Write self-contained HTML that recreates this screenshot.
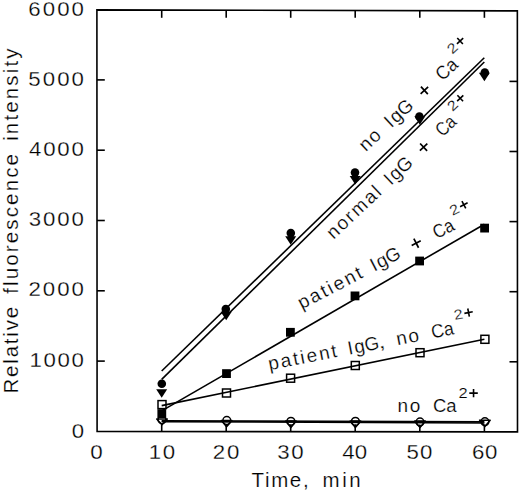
<!DOCTYPE html>
<html><head><meta charset="utf-8"><style>
html,body{margin:0;padding:0;background:#fff;}
svg{display:block;}
text{font-family:"Liberation Sans",sans-serif;fill:#000;stroke:#fff;stroke-width:0.2px;}
.lb{font-size:21px;letter-spacing:0px;}
</style></head><body>
<svg width="520" height="491" viewBox="0 0 520 491">
<rect width="520" height="491" fill="#fff"/>
<path d="M96.9 9.85L517.35 10.9L517.5 431.9L97.1 431.5Z" fill="none" stroke="#000" stroke-width="1.6" stroke-linejoin="miter"/>
<line x1="161.7" y1="10" x2="161.7" y2="17.8" stroke="#000" stroke-width="1.6"/>
<line x1="161.7" y1="431.8" x2="161.7" y2="424.5" stroke="#000" stroke-width="1.6"/>
<line x1="226.2" y1="10" x2="226.2" y2="17.8" stroke="#000" stroke-width="1.6"/>
<line x1="226.2" y1="431.8" x2="226.2" y2="424.5" stroke="#000" stroke-width="1.6"/>
<line x1="290.7" y1="10" x2="290.7" y2="17.8" stroke="#000" stroke-width="1.6"/>
<line x1="290.7" y1="431.8" x2="290.7" y2="424.5" stroke="#000" stroke-width="1.6"/>
<line x1="355.2" y1="10" x2="355.2" y2="17.8" stroke="#000" stroke-width="1.6"/>
<line x1="355.2" y1="431.8" x2="355.2" y2="424.5" stroke="#000" stroke-width="1.6"/>
<line x1="419.8" y1="10" x2="419.8" y2="17.8" stroke="#000" stroke-width="1.6"/>
<line x1="419.8" y1="431.8" x2="419.8" y2="424.5" stroke="#000" stroke-width="1.6"/>
<line x1="484.4" y1="10" x2="484.4" y2="17.8" stroke="#000" stroke-width="1.6"/>
<line x1="484.4" y1="431.8" x2="484.4" y2="424.5" stroke="#000" stroke-width="1.6"/>
<line x1="97" y1="361.10" x2="104.8" y2="361.10" stroke="#000" stroke-width="1.6"/>
<line x1="517.4" y1="361.80" x2="509.5" y2="361.80" stroke="#000" stroke-width="1.6"/>
<line x1="97" y1="290.80" x2="104.8" y2="290.80" stroke="#000" stroke-width="1.6"/>
<line x1="517.4" y1="291.70" x2="509.5" y2="291.70" stroke="#000" stroke-width="1.6"/>
<line x1="97" y1="220.50" x2="104.8" y2="220.50" stroke="#000" stroke-width="1.6"/>
<line x1="517.4" y1="221.60" x2="509.5" y2="221.60" stroke="#000" stroke-width="1.6"/>
<line x1="97" y1="150.20" x2="104.8" y2="150.20" stroke="#000" stroke-width="1.6"/>
<line x1="517.4" y1="151.50" x2="509.5" y2="151.50" stroke="#000" stroke-width="1.6"/>
<line x1="97" y1="79.90" x2="104.8" y2="79.90" stroke="#000" stroke-width="1.6"/>
<line x1="517.4" y1="81.40" x2="509.5" y2="81.40" stroke="#000" stroke-width="1.6"/>
<line x1="161.7" y1="371.0" x2="484.3" y2="57.8" stroke="#000" stroke-width="1.6"/>
<line x1="161.7" y1="379.4" x2="484.3" y2="62.0" stroke="#000" stroke-width="1.6"/>
<line x1="161.7" y1="410.9" x2="484.4" y2="224.2" stroke="#000" stroke-width="1.6"/>
<line x1="161.7" y1="405.6" x2="484.4" y2="339.3" stroke="#000" stroke-width="1.6"/>
<line x1="161.7" y1="420.8" x2="484.4" y2="421.9" stroke="#000" stroke-width="1.7"/>
<line x1="161.7" y1="421.6" x2="484.4" y2="423.0" stroke="#000" stroke-width="1.7"/>
<circle cx="161.8" cy="383.7" r="4.3" fill="#000"/>
<circle cx="225.8" cy="309.1" r="4.3" fill="#000"/>
<circle cx="290.8" cy="233.1" r="4.3" fill="#000"/>
<circle cx="355" cy="172.6" r="4.3" fill="#000"/>
<circle cx="419.4" cy="116.5" r="4.3" fill="#000"/>
<circle cx="484.8" cy="72.5" r="4.3" fill="#000"/>
<polygon points="156.20,389.18 167.20,389.18 161.70,397.68" fill="#000"/>
<polygon points="220.70,311.68 231.70,311.68 226.20,320.18" fill="#000"/>
<polygon points="285.20,236.18 296.20,236.18 290.70,244.68" fill="#000"/>
<polygon points="349.70,176.08 360.70,176.08 355.20,184.58" fill="#000"/>
<polygon points="414.30,116.27 425.30,116.27 419.80,124.77" fill="#000"/>
<polygon points="478.90,72.77 489.90,72.77 484.40,81.27" fill="#000"/>
<rect x="157.40" y="409.20" width="8.8" height="8.8" fill="#000"/>
<rect x="222.10" y="369.20" width="8.8" height="8.8" fill="#000"/>
<rect x="286.00" y="327.90" width="8.8" height="8.8" fill="#000"/>
<rect x="350.60" y="291.50" width="8.8" height="8.8" fill="#000"/>
<rect x="415.20" y="256.60" width="8.8" height="8.8" fill="#000"/>
<rect x="480.20" y="223.70" width="8.8" height="8.8" fill="#000"/>
<rect x="158.00" y="400.60" width="8.0" height="8.0" fill="none" stroke="#000" stroke-width="1.5"/>
<rect x="222.50" y="389.00" width="8.0" height="8.0" fill="none" stroke="#000" stroke-width="1.5"/>
<rect x="286.60" y="374.20" width="8.0" height="8.0" fill="none" stroke="#000" stroke-width="1.5"/>
<rect x="351.30" y="361.50" width="8.0" height="8.0" fill="none" stroke="#000" stroke-width="1.5"/>
<rect x="416.00" y="348.70" width="8.0" height="8.0" fill="none" stroke="#000" stroke-width="1.5"/>
<rect x="480.90" y="335.30" width="8.0" height="8.0" fill="none" stroke="#000" stroke-width="1.5"/>
<circle cx="162.0" cy="419.8" r="3.9" fill="none" stroke="#000" stroke-width="1.5"/>
<circle cx="226.8" cy="420.5" r="3.9" fill="none" stroke="#000" stroke-width="1.5"/>
<circle cx="290.9" cy="421.3" r="3.9" fill="none" stroke="#000" stroke-width="1.5"/>
<circle cx="355.4" cy="421.4" r="3.9" fill="none" stroke="#000" stroke-width="1.5"/>
<circle cx="420.0" cy="422.0" r="3.9" fill="none" stroke="#000" stroke-width="1.5"/>
<circle cx="484.9" cy="421.7" r="3.9" fill="none" stroke="#000" stroke-width="1.5"/>
<polygon points="156.70,419.00 167.30,419.00 162.00,424.80" fill="none" stroke="#000" stroke-width="1.5" stroke-linejoin="round"/>
<polygon points="221.30,420.50 231.90,420.50 226.60,426.80" fill="none" stroke="#000" stroke-width="1.5" stroke-linejoin="round"/>
<polygon points="285.60,421.00 296.20,421.00 290.90,427.40" fill="none" stroke="#000" stroke-width="1.5" stroke-linejoin="round"/>
<polygon points="350.10,421.00 360.70,421.00 355.40,427.40" fill="none" stroke="#000" stroke-width="1.5" stroke-linejoin="round"/>
<polygon points="414.70,421.00 425.30,421.00 420.00,427.40" fill="none" stroke="#000" stroke-width="1.5" stroke-linejoin="round"/>
<polygon points="479.60,420.20 490.20,420.20 484.90,426.60" fill="none" stroke="#000" stroke-width="1.5" stroke-linejoin="round"/>
<text transform="translate(28.37,15.6) scale(1.080,1)" style="font-size:20.6px;letter-spacing:1.88px;stroke-width:0.26px">6000</text>
<text transform="translate(28.31,86.3) scale(1.080,1)" style="font-size:20.6px;letter-spacing:1.90px;stroke-width:0.26px">5000</text>
<text transform="translate(28.99,156.3) scale(1.080,1)" style="font-size:20.6px;letter-spacing:1.69px;stroke-width:0.26px">4000</text>
<text transform="translate(28.65,226.3) scale(1.080,1)" style="font-size:20.6px;letter-spacing:1.80px;stroke-width:0.26px">3000</text>
<text transform="translate(28.38,296.4) scale(1.080,1)" style="font-size:20.6px;letter-spacing:1.88px;stroke-width:0.26px">2000</text>
<text transform="translate(29.41,367.1) scale(1.080,1)" style="font-size:20.6px;letter-spacing:1.57px;stroke-width:0.26px">1000</text>
<text transform="translate(71.63,437.5) scale(1.076,1)" style="font-size:20.6px;letter-spacing:0.00px;stroke-width:0.26px">0</text>
<text transform="translate(90.33,459.4) scale(1.087,1)" style="font-size:20.6px;letter-spacing:0.00px;stroke-width:0.26px">0</text>
<text transform="translate(148.71,459.4) scale(1.080,1)" style="font-size:20.6px;letter-spacing:1.50px;stroke-width:0.26px">10</text>
<text transform="translate(212.68,459.4) scale(1.080,1)" style="font-size:20.6px;letter-spacing:1.80px;stroke-width:0.26px">20</text>
<text transform="translate(277.25,459.4) scale(1.080,1)" style="font-size:20.6px;letter-spacing:1.45px;stroke-width:0.26px">30</text>
<text transform="translate(342.19,459.4) scale(1.080,1)" style="font-size:20.6px;letter-spacing:0.12px;stroke-width:0.26px">40</text>
<text transform="translate(406.41,459.4) scale(1.080,1)" style="font-size:20.6px;letter-spacing:1.12px;stroke-width:0.26px">50</text>
<text transform="translate(471.97,459.4) scale(1.080,1)" style="font-size:20.6px;letter-spacing:0.60px;stroke-width:0.26px">60</text>
<text transform="translate(251.54,487.0) scale(1.000,1)" style="font-size:20.5px;letter-spacing:1.64px">Time,</text>
<text transform="translate(322.44,487.0) scale(1.000,1)" style="font-size:20.5px;letter-spacing:2.63px">min</text>
<g transform="translate(17.5,0) rotate(-90)">
<text transform="translate(-393.48,0) scale(1.000,1)" style="font-size:20.5px;letter-spacing:1.79px">Relative</text>
<text transform="translate(-293.79,0) scale(1.000,1)" style="font-size:20.5px;letter-spacing:2.14px">fluorescence</text>
<text transform="translate(-140.87,0) scale(1.000,1)" style="font-size:20.5px;letter-spacing:2.15px">intensity</text>
</g>
<g transform="translate(393.2,126.8) rotate(-42.6)">
<text class="lb" x="-37.46" y="0" style="font-size:19px;letter-spacing:1.63px">no</text>
<text class="lb" x="-2.53" y="0" style="font-size:19px" textLength="5.06" lengthAdjust="spacingAndGlyphs">I</text>
<text class="lb" x="4.11" y="0" style="font-size:19px" textLength="24.99" lengthAdjust="spacingAndGlyphs">gG</text>
<path d="M42.50 -5.70H52.70M47.60 -10.80V-0.60" stroke="#000" stroke-width="1.7" fill="none"/>
<text class="lb" x="67.04" y="0" style="font-size:19px" textLength="22.46" lengthAdjust="spacingAndGlyphs">Ca</text>
<text class="lb" x="92.22" y="-13.2" style="font-size:14.0px" textLength="9.16" lengthAdjust="spacingAndGlyphs">2</text>
<path d="M103.05 -17.90H111.55M107.30 -22.05V-13.75" stroke="#000" stroke-width="1.6" fill="none"/>
</g>
<g transform="translate(392.8,184.2) rotate(-43.2)">
<text class="lb" x="-81.46" y="0" style="font-size:19px;letter-spacing:1.90px">normal</text>
<text class="lb" x="-2.53" y="0" style="font-size:19px" textLength="5.06" lengthAdjust="spacingAndGlyphs">I</text>
<text class="lb" x="4.11" y="0" style="font-size:19px" textLength="24.99" lengthAdjust="spacingAndGlyphs">gG</text>
<path d="M42.70 -5.90H52.90M47.80 -11.00V-0.80" stroke="#000" stroke-width="1.7" fill="none"/>
<text class="lb" x="68.19" y="0" style="font-size:19px" textLength="20.91" lengthAdjust="spacingAndGlyphs">Ca</text>
<text class="lb" x="92.92" y="-11.8" style="font-size:14.0px" textLength="9.16" lengthAdjust="spacingAndGlyphs">2</text>
<path d="M103.75 -16.50H112.25M108.00 -20.65V-12.35" stroke="#000" stroke-width="1.6" fill="none"/>
</g>
<g transform="translate(376.4,270.7) rotate(-27.5)">
<text class="lb" x="-84.12" y="0" style="font-size:19px;letter-spacing:2.17px">patient</text>
<text class="lb" x="-2.53" y="0" style="font-size:19px" textLength="5.06" lengthAdjust="spacingAndGlyphs">I</text>
<text class="lb" x="4.11" y="0" style="font-size:19px" textLength="24.99" lengthAdjust="spacingAndGlyphs">gG</text>
<path d="M42.90 -6.00H53.10M48.00 -11.10V-0.90" stroke="#000" stroke-width="1.7" fill="none"/>
<text class="lb" x="68.03" y="0" style="font-size:19px" textLength="21.47" lengthAdjust="spacingAndGlyphs">Ca</text>
<text class="lb" x="92.92" y="-13.4" style="font-size:14.0px" textLength="9.16" lengthAdjust="spacingAndGlyphs">2</text>
<path d="M103.75 -18.10H112.25M108.00 -22.25V-13.95" stroke="#000" stroke-width="1.6" fill="none"/>
</g>
<g transform="translate(351.45,354.2) rotate(-11.0)">
<text class="lb" x="-83.62" y="0" style="font-size:19px;letter-spacing:2.10px">patient</text>
<text class="lb" x="-2.53" y="0" style="font-size:19px" textLength="5.06" lengthAdjust="spacingAndGlyphs">I</text>
<text class="lb" x="4.11" y="0" style="font-size:19px" textLength="24.99" lengthAdjust="spacingAndGlyphs">gG</text>
<text class="lb" x="28.01" y="0" style="font-size:19px" textLength="7.08" lengthAdjust="spacingAndGlyphs">,</text>
<text class="lb" x="46.89" y="0" style="font-size:19px;letter-spacing:1.63px">no</text>
<text class="lb" x="82.56" y="0" style="font-size:19px" textLength="22.74" lengthAdjust="spacingAndGlyphs">Ca</text>
<text class="lb" x="107.82" y="-13.8" style="font-size:14.0px" textLength="9.16" lengthAdjust="spacingAndGlyphs">2</text>
<path d="M118.65 -18.50H127.15M122.90 -22.65V-14.35" stroke="#000" stroke-width="1.6" fill="none"/>
</g>
<g transform="translate(0,412) rotate(0)">
<text class="lb" x="397.44" y="0" style="font-size:19px;letter-spacing:1.63px">no</text>
<text class="lb" x="432.95" y="0" style="font-size:19px" textLength="23.65" lengthAdjust="spacingAndGlyphs">Ca</text>
<text class="lb" x="458.47" y="-14.2" style="font-size:14.0px" textLength="9.16" lengthAdjust="spacingAndGlyphs">2</text>
<path d="M469.30 -18.90H477.80M473.55 -23.05V-14.75" stroke="#000" stroke-width="1.6" fill="none"/>
</g>
</svg>
</body></html>
